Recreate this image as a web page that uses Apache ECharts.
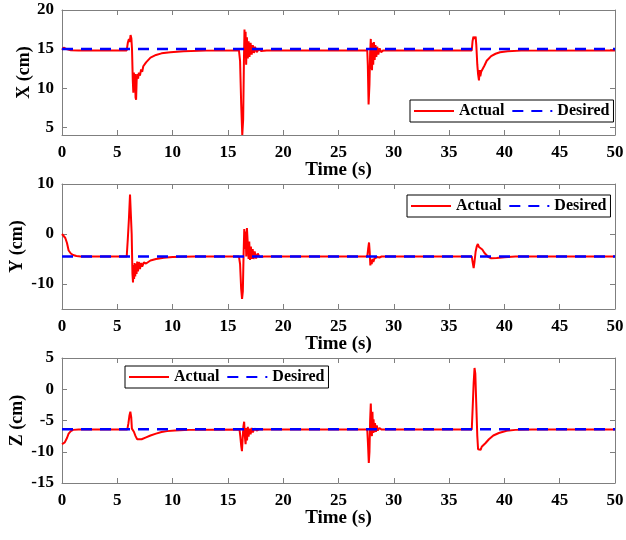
<!DOCTYPE html>
<html>
<head>
<meta charset="utf-8">
<script src="https://cdn.jsdelivr.net/npm/echarts@6/dist/echarts.min.js"></script>
<style>html,body{margin:0;padding:0;background:#fff}#c{width:626px;height:540px}</style>
</head>
<body>
<div id="c"></div>
<script>
// ---- data ----
const timeTicks = [0, 5, 10, 15, 20, 25, 30, 35, 40, 45, 50];
const desiredTime = [0, 50];
const xDesired = 15;
const yDesired = -4.5;
const zDesired = -6.4;

const xTime = [0,0.15,0.4,0.8,1.5,5.85,5.95,6.05,6.12,6.2,6.27,6.33,6.4,6.45,6.5,6.55,6.6,6.65,6.7,6.75,6.8,6.88,6.95,7.05,7.15,7.25,7.35,7.6,8.0,8.5,9.0,9.8,11,13,
  16.0,16.1,16.2,16.3,16.38,16.45,16.5,16.55,16.6,16.65,16.72,16.8,16.87,16.95,17.05,17.15,17.25,17.35,17.45,17.6,17.8,18.0,18.5,
  27.6,27.65,27.72,27.8,27.86,27.92,27.98,28.03,28.08,28.14,28.2,28.27,28.34,28.42,28.5,28.6,28.72,28.85,29.05,
  37.05,37.12,37.2,37.3,37.4,37.46,37.55,37.62,37.7,37.76,37.82,37.9,38.0,38.2,38.4,38.8,39.2,39.6,40.3,41.5,50];
const xActual = [14.9,15.2,15.0,14.85,14.82,14.82,15.8,16.3,15.9,16.8,16.4,15.0,11.0,9.4,12.0,10.3,11.8,8.8,8.5,11.0,11.8,11.2,12.0,11.6,12.4,12.1,12.8,13.3,13.9,14.25,14.45,14.6,14.72,14.8,
  14.82,13.5,8.0,4.0,6.0,13.5,17.5,14.0,17.2,13.0,16.5,13.8,16.0,14.0,15.8,14.3,15.5,14.5,15.3,14.6,15.0,14.75,14.83,
  14.83,13.0,7.9,10.5,14.5,16.3,13.0,12.3,15.8,13.0,15.9,13.6,15.5,14.0,15.3,14.3,15.1,14.6,14.83,
  14.83,16.0,16.6,16.3,16.6,15.5,13.0,11.8,11.0,12.3,11.5,12.1,12.3,12.9,13.5,14.1,14.4,14.6,14.72,14.8,14.83];

const yTime = [0,0.15,0.3,0.45,0.6,0.8,1.0,1.3,1.7,5.85,5.95,6.05,6.15,6.22,6.3,6.37,6.42,6.47,6.52,6.57,6.62,6.68,6.74,6.8,6.87,6.95,7.05,7.15,7.25,7.4,7.6,8.0,8.5,9.2,10,12,
  16.0,16.1,16.2,16.28,16.35,16.42,16.48,16.55,16.6,16.66,16.72,16.8,16.87,16.93,17.0,17.08,17.16,17.24,17.32,17.42,17.55,17.7,17.85,18.0,18.3,
  27.6,27.68,27.76,27.82,27.88,27.94,28.0,28.07,28.15,28.25,28.35,28.5,28.7,28.9,
  37.05,37.12,37.22,37.3,37.4,37.5,37.6,37.7,37.8,38.0,38.2,38.5,38.8,39.3,40.0,41,50];
const yActual = [0,-0.2,-0.8,-1.8,-3.3,-3.9,-4.2,-4.4,-4.5,-4.5,-1.0,3.0,7.9,7.5,0.0,-8.0,-9.7,-6.2,-9.0,-5.8,-8.5,-6.0,-8.0,-5.5,-7.5,-5.6,-7.0,-5.8,-6.5,-5.7,-5.9,-5.3,-5.0,-4.75,-4.6,-4.5,
  -4.5,-6.0,-11.0,-13.0,-11.5,-4.0,1.0,-3.0,0.5,-4.5,1.2,-2.0,-5.0,-1.5,-5.2,-2.5,-5.0,-3.0,-5.0,-3.5,-4.9,-3.9,-4.6,-4.3,-4.5,
  -4.5,-3.0,-1.7,-3.5,-6.3,-5.2,-6.0,-5.0,-5.6,-4.9,-5.2,-4.6,-4.7,-4.5,
  -4.5,-5.5,-6.8,-5.5,-3.5,-2.5,-2.0,-2.6,-2.4,-3.1,-3.8,-4.5,-4.85,-4.8,-4.65,-4.5,-4.5];

const zTime = [0,0.25,0.45,0.6,0.8,1.0,1.5,5.9,6.0,6.1,6.18,6.26,6.32,6.4,6.5,6.65,6.8,6.95,7.2,7.6,8.0,8.5,9.0,9.5,10.2,11.5,
  16.05,16.12,16.2,16.27,16.33,16.4,16.47,16.53,16.6,16.67,16.73,16.8,16.87,16.95,17.05,17.15,17.25,17.4,17.6,17.8,
  27.6,27.66,27.74,27.8,27.86,27.92,27.97,28.02,28.07,28.12,28.17,28.23,28.3,28.38,28.46,28.55,28.7,28.9,
  37.05,37.13,37.22,37.3,37.37,37.45,37.55,37.62,37.7,37.76,37.85,37.95,38.1,38.3,38.6,39.0,39.5,40.2,41.0,42.5,50];
const zActual = [-8.8,-8.5,-7.8,-7.1,-6.7,-6.5,-6.45,-6.45,-5.5,-4.2,-3.6,-4.5,-6.3,-6.5,-6.8,-7.5,-8.0,-8.15,-8.0,-7.7,-7.4,-7.1,-6.85,-6.7,-6.6,-6.5,
  -6.45,-7.5,-9.0,-9.9,-8.0,-6.0,-5.2,-7.5,-8.8,-6.2,-8.2,-6.0,-7.6,-6.3,-7.2,-6.2,-6.9,-6.3,-6.6,-6.45,
  -6.45,-8.5,-11.8,-10.0,-5.0,-2.3,-5.5,-7.5,-3.6,-7.0,-4.8,-6.9,-5.4,-6.8,-5.8,-6.6,-6.2,-6.45,
  -6.45,-3.0,1.0,3.4,2.5,-2.0,-7.5,-9.6,-9.8,-9.3,-9.7,-9.2,-9.0,-8.6,-8.0,-7.4,-7.0,-6.65,-6.5,-6.45,-6.45];

const xTicks = [5, 10, 15, 20];
const yTicks = [-10, 0, 10];
const zTicks = [5, 0, -5, -10, -15];

// ---- chart ----
const FONT = "'Liberation Serif', 'Times New Roman', serif";
const AXC = '#7f7f7f';
const pair = (t, v) => t.map((x, i) => [x, v[i]]);

const panels = [
  {top: 10, yMin: 4, yMax: 20, ticks: xTicks, name: 'X (cm)', nameGap: 29, act: pair(xTime, xActual), des: xDesired, legend: {left: 410, top: 100}},
  {top: 184, yMin: -15, yMax: 10, ticks: yTicks, name: 'Y (cm)', nameGap: 36, act: pair(yTime, yActual), des: yDesired, legend: {left: 407, top: 195}},
  {top: 358, yMin: -15, yMax: 5, ticks: zTicks, name: 'Z (cm)', nameGap: 36, act: pair(zTime, zActual), des: zDesired, legend: {left: 125, top: 366}}
];

const grid = [], xAxis = [], yAxis = [], series = [], legend = [];
panels.forEach((p, i) => {
  grid.push({left: 62, width: 553, top: p.top, height: 125, containLabel: false, outerBoundsMode: 'none'});
  const tick = {show: true, inside: true, length: 5, lineStyle: {color: AXC}};
  const line = {show: true, onZero: false, lineStyle: {color: AXC, width: 1}};
  xAxis.push({
    gridIndex: i, type: 'value', min: 0, max: 50, interval: 5, position: 'bottom',
    axisLine: line, axisTick: tick, splitLine: {show: false},
    axisLabel: {customValues: timeTicks, margin: 9, color: '#000', fontFamily: FONT, fontWeight: 'bold', fontSize: 17},
    name: 'Time (s)', nameLocation: 'middle', nameGap: 26, nameMoveOverlap: false,
    nameTextStyle: {color: '#000', fontFamily: FONT, fontWeight: 'bold', fontSize: 19}
  });
  xAxis.push({
    gridIndex: i, type: 'value', min: 0, max: 50, interval: 5, position: 'top',
    axisLine: line, axisTick: tick, splitLine: {show: false}, axisLabel: {show: false}
  });
  yAxis.push({
    gridIndex: i, type: 'value', min: p.yMin, max: p.yMax, position: 'left',
    axisLine: line, axisTick: Object.assign({customValues: p.ticks}, tick), splitLine: {show: false},
    axisLabel: {customValues: p.ticks, margin: 8, color: '#000', fontFamily: FONT, fontWeight: 'bold', fontSize: 17},
    name: p.name, nameLocation: 'middle', nameGap: p.nameGap, nameRotate: 90, nameMoveOverlap: false,
    nameTextStyle: {color: '#000', fontFamily: FONT, fontWeight: 'bold', fontSize: 18}
  });
  yAxis.push({
    gridIndex: i, type: 'value', min: p.yMin, max: p.yMax, position: 'right',
    axisLine: line, axisTick: Object.assign({customValues: p.ticks}, tick), splitLine: {show: false},
    axisLabel: {show: false}
  });
  series.push({
    name: 'Actual', type: 'line', xAxisIndex: 2 * i, yAxisIndex: 2 * i, data: p.act,
    symbol: 'none', lineStyle: {color: '#ff0000', width: 2}, itemStyle: {color: '#ff0000'}, z: 2
  });
  series.push({
    name: 'Desired', type: 'line', xAxisIndex: 2 * i, yAxisIndex: 2 * i,
    data: desiredTime.map(t => [t, p.des]),
    symbol: 'none', lineStyle: {color: '#0000ff', width: 2.5, type: [11, 8]}, itemStyle: {color: '#0000ff'}, z: 3
  });
  legend.push(Object.assign({
    data: ['Actual', 'Desired'], orient: 'horizontal',
    itemWidth: 40, itemHeight: 14, itemGap: 7, padding: [3, 4, 3, 3],
    backgroundColor: '#fff', borderColor: '#000', borderWidth: 1, borderRadius: 0,
    itemStyle: {opacity: 0},
    textStyle: {color: '#000', fontFamily: FONT, fontWeight: 'bold', fontSize: 16},
    selectedMode: false
  }, p.legend));
});

const chart = echarts.init(document.getElementById('c'), null, {renderer: 'canvas'});
chart.setOption({animation: false, backgroundColor: '#fff', grid, xAxis, yAxis, series, legend});
</script>
</body>
</html>
